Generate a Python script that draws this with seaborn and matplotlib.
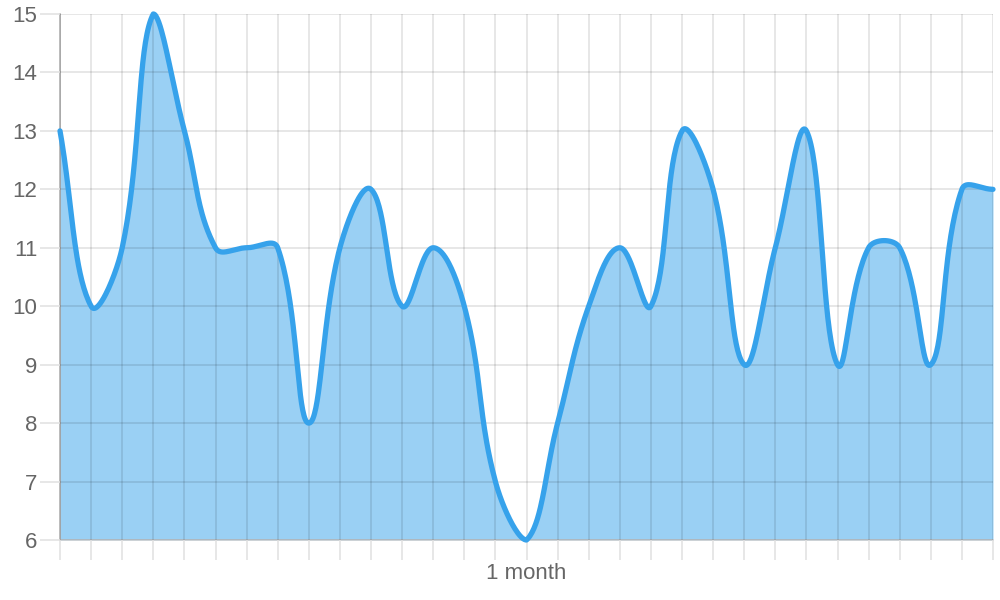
import numpy as np
import pandas as pd
import seaborn as sns
import matplotlib.pyplot as plt

# Data
days = list(range(31))
values = [13, 10, 11, 15, 13, 11, 11, 11, 8, 11, 12, 10, 11, 10, 7, 6,
          8, 10, 11, 10, 13, 12, 9, 11, 13, 9, 11, 11, 9, 12, 12]
x_labels = [""] * 31
x_labels[15] = "1 month"
y_ticks = list(range(6, 16))

line_color = "#36A2EB"
fill_color = (54 / 255, 162 / 255, 235 / 255, 0.5)


# smooth curve like a tension spline (done in pixel space of the axes)
def smooth(xv, yv, sx, sy, ymin, ymax, tension=0.4, steps=40):
    px = np.array(xv, dtype=float) * sx
    py = np.array(yv, dtype=float) * sy
    n = len(px)
    cp_prev = np.zeros((n, 2))
    cp_next = np.zeros((n, 2))
    for i in range(n):
        a = max(i - 1, 0)
        b = min(i + 1, n - 1)
        d01 = np.hypot(px[i] - px[a], py[i] - py[a])
        d12 = np.hypot(px[b] - px[i], py[b] - py[i])
        tot = d01 + d12
        s01 = d01 / tot if tot else 0
        s12 = d12 / tot if tot else 0
        fa = tension * s01
        fb = tension * s12
        cp_prev[i] = [px[i] - fa * (px[b] - px[a]), py[i] - fa * (py[b] - py[a])]
        cp_next[i] = [px[i] + fb * (px[b] - px[a]), py[i] + fb * (py[b] - py[a])]
    lo = np.array([px[0], ymin * sy])
    hi = np.array([px[-1], ymax * sy])
    cp_prev = np.clip(cp_prev, lo, hi)
    cp_next = np.clip(cp_next, lo, hi)
    t = np.linspace(0, 1, steps)[:, None]
    out = []
    for i in range(n - 1):
        p0 = np.array([px[i], py[i]])
        p3 = np.array([px[i + 1], py[i + 1]])
        p1 = cp_next[i]
        p2 = cp_prev[i + 1]
        seg = ((1 - t) ** 3) * p0 + 3 * ((1 - t) ** 2) * t * p1 + 3 * (1 - t) * t ** 2 * p2 + t ** 3 * p3
        out.append(seg if i == 0 else seg[1:])
    out = np.vstack(out)
    return out[:, 0] / sx, out[:, 1] / sy


sns.set_style("white")
plt.rcParams["font.family"] = ["Liberation Sans", "DejaVu Sans"]

fig = plt.figure(figsize=(10, 6), dpi=100)
ax = fig.add_axes([0.06, 0.1, 0.933, 0.87667])

xs, ys = smooth(days, values, 31.1, 58.44, 6, 15)
curve = pd.DataFrame({"day": xs, "value": ys})

ax.fill_between(curve["day"], curve["value"], 6, color=fill_color, linewidth=0, zorder=1)
sns.lineplot(data=curve, x="day", y="value", sort=False, estimator=None,
             color=line_color, linewidth=3.8, ax=ax, zorder=3, clip_on=False)

ax.set_xlim(0, 30)
ax.set_ylim(6, 15)
ax.set_xticks(days)
ax.set_xticklabels(x_labels)
ax.set_yticks(y_ticks)
ax.set_xlabel("")
ax.set_ylabel("")

ax.set_axisbelow(False)
ax.grid(True, color="black", alpha=0.12, linewidth=1.1)
ax.tick_params(axis="both", length=14.4, width=1.1, color="#e0e0e0",
               labelcolor="#666666", labelsize=16, pad=2)
ax.tick_params(axis="x", direction="out", bottom=True)
ax.tick_params(axis="y", direction="out", left=True)
ax.xaxis.get_major_ticks()[0].tick1line.set_color("#b3b3b3")

for side in ["top", "right"]:
    ax.spines[side].set_visible(False)
ax.spines["left"].set_color("#a8a8a8")
ax.spines["left"].set_linewidth(1.1)
ax.spines["bottom"].set_color("#cccccc")
ax.spines["bottom"].set_linewidth(1.1)

fig.savefig("out.png", dpi=100)
